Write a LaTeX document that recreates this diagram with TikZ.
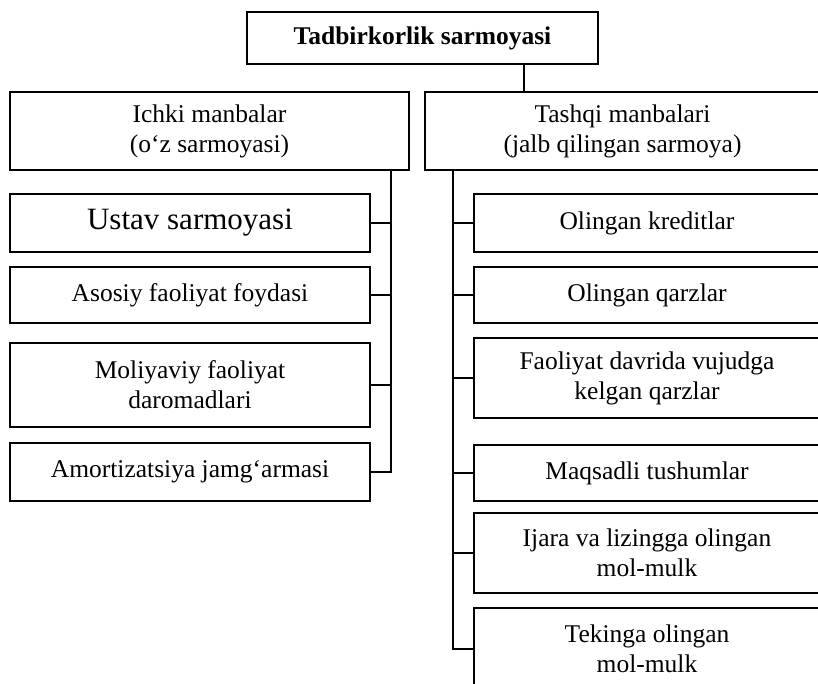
\documentclass[tikz,border=0pt]{standalone}
\usepackage{fontspec}
\setmainfont{Liberation Serif}
\tikzset{
  box/.style={draw, line width=1.6pt, inner sep=0pt, align=center,
    font=\fontsize{25.5}{30}\selectfont},
  lbox/.style={box, minimum width=360pt},
  rbox/.style={box, minimum width=346pt},
  conn/.style={line width=1.5pt}
}
\begin{document}
\begin{tikzpicture}[x=1pt,y=-1pt]
\useasboundingbox (0,0) rectangle (818,684);
% top level
\node[box, minimum width=351pt, minimum height=52pt,
      font=\fontsize{25.5}{30}\selectfont\bfseries] (top) at (422.5,38) {Tadbirkorlik sarmoyasi};
\node[box, minimum width=399pt, minimum height=78pt] (ichki) at (209.5,131)
  {Ichki manbalar\\(o‘z sarmoyasi)};
\node[box, minimum width=395pt, minimum height=78pt] (tashqi) at (622.5,131)
  {Tashqi manbalari\\(jalb qilingan sarmoya)};
% left column
\node[lbox, minimum height=58pt, font=\fontsize{31}{36}\selectfont] (ustav) at (190,223) {Ustav sarmoyasi};
\node[lbox, minimum height=56pt] (asosiy) at (190,295) {Asosiy faoliyat foydasi};
\node[lbox, minimum height=84pt] (moliya) at (190,385) {Moliyaviy faoliyat\\daromadlari};
\node[lbox, minimum height=58pt] (amort) at (190,472) {Amortizatsiya jamg‘armasi};
% right column
\node[rbox, minimum height=58pt] (kred) at (647,223) {Olingan kreditlar};
\node[rbox, minimum height=56pt] (qarz) at (647,295) {Olingan qarzlar};
\node[rbox, minimum height=80pt] (faol) at (647,378) {Faoliyat davrida vujudga\\kelgan qarzlar};
\node[rbox, minimum height=56pt] (maqs) at (647,473) {Maqsadli tushumlar};
\node[rbox, minimum height=80pt] (ijara) at (647,553) {Ijara va lizingga olingan\\mol-mulk};
\node[rbox, minimum height=82pt] (tekin) at (647,649) {Tekinga olingan\\mol-mulk};
% trunk positions
\coordinate (tx) at (524,0);
\coordinate (lt) at (391,0);
\coordinate (rt) at (453,0);
% connectors
\draw[conn] (top.south -| tx) -- (tashqi.north -| tx);
\draw[conn] (ichki.south -| lt) -- (amort.east -| lt) -- (amort.east);
\draw[conn] (ustav.east) -- (ustav.east -| lt);
\draw[conn] (asosiy.east) -- (asosiy.east -| lt);
\draw[conn] (moliya.east) -- (moliya.east -| lt);
\draw[conn] (tashqi.south -| rt) -- (tekin.west -| rt) -- (tekin.west);
\draw[conn] (kred.west) -- (kred.west -| rt);
\draw[conn] (qarz.west) -- (qarz.west -| rt);
\draw[conn] (faol.west) -- (faol.west -| rt);
\draw[conn] (maqs.west) -- (maqs.west -| rt);
\draw[conn] (ijara.west) -- (ijara.west -| rt);
\end{tikzpicture}
\end{document}
